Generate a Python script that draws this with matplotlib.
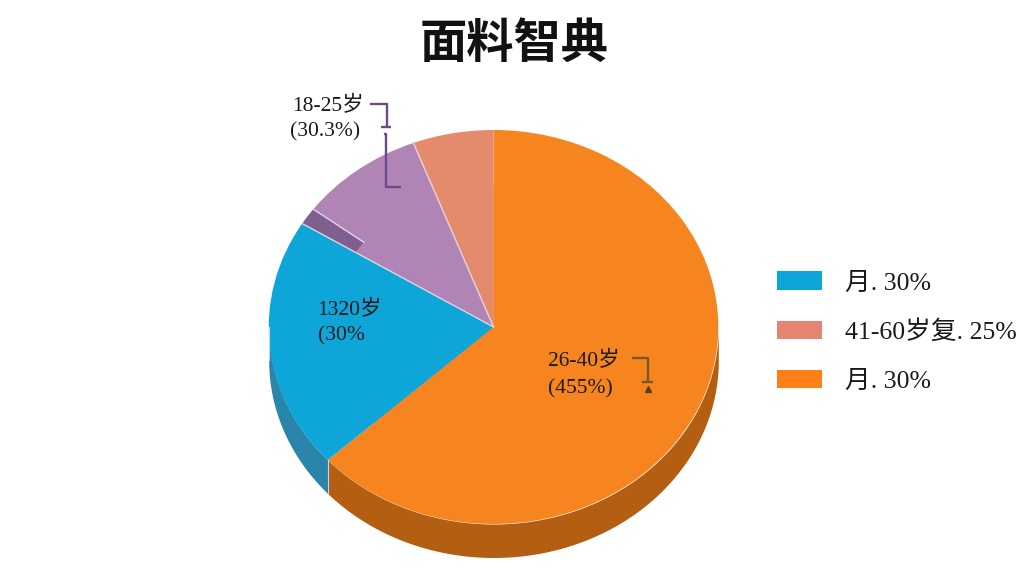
import numpy as np
import matplotlib
matplotlib.use("Agg")
import matplotlib.pyplot as plt
from matplotlib.lines import Line2D
from matplotlib.patches import Patch

plt.rcParams['font.family'] = ['Liberation Serif', 'Noto Sans CJK SC', 'DejaVu Sans']

title = "面料智典"

# slices, clockwise from the top
slice_values = [63.2, 20.6, 1.4, 9.0, 5.8]
top_colors = ["#f6851f", "#0ea5d9", "#7f5f8f", "#b085b5", "#e58b6d"]
inner_colors = ["#f6851f", "#0ea5d9", "#b085b5", "#b085b5", "#e58b6d"]
side_colors = ["#b35e10", "#2a85ab", "#5f4670", "#80608a", "#a86850"]

legend_labels = ["月. 30%", "41-60岁复. 25%", "月. 30%"]
legend_colors = ["#0ea5d9", "#e58570", "#ff8016"]

W = 1024
H = 576
depth = 0.17


def px(x, y):
    return x / W, 1 - y / H


def bracket(xs, ys, color):
    fx = [x / W for x in xs]
    fy = [1 - y / H for y in ys]
    fig.add_artist(Line2D(fx, fy, color=color, lw=1.7, solid_capstyle="butt"))


fig = plt.figure(figsize=(10.24, 5.76), dpi=100, facecolor="white")

# axes sized so the pie becomes a flattened ellipse, 225 x 197 px
ax = fig.add_axes([(493.5 - 281) / W, (576 - 573.25) / H, 562 / W, 492.5 / H])

# side wall of the pie
start = 90.0
for val, col in zip(slice_values, side_colors):
    end = start - val * 3.6
    a1, a2 = end % 360, (end % 360) + val * 3.6
    lo, hi = max(a1, 180), min(a2, 360)
    if hi > lo:
        t = np.radians(np.linspace(lo, hi, 120))
        ax.fill_between(np.cos(t), np.sin(t), np.sin(t) - depth, color=col, lw=0)
        ax.plot([np.cos(t[0])] * 2, [np.sin(t[0]), np.sin(t[0]) - depth],
                color="#c9d6df", lw=0.8)
    start = end

ax.pie(slice_values, colors=top_colors, startangle=90, counterclock=False,
       radius=1.0, wedgeprops=dict(linewidth=0))
# the dark slice only shows near the rim, purple covers its inner part
ax.pie(slice_values, colors=inner_colors, startangle=90, counterclock=False,
       radius=0.72, wedgeprops=dict(linewidth=0))

# pale seams between the small slices
bounds = np.radians(90 - np.cumsum(slice_values) * 3.6)
seam_starts = [0, 0.72, 0]
for b, r0 in zip(bounds[1:4], seam_starts):
    ax.plot([r0 * np.cos(b), np.cos(b)], [r0 * np.sin(b), np.sin(b)],
            color="#e3d3e0", lw=1.0)

ax.set_aspect("auto")
ax.set_xlim(-1.25, 1.25)
ax.set_ylim(-1.25, 1.25)

# title
tx, ty = px(514, 44)
fig.text(tx, ty, title, ha="center", va="center", fontsize=34, fontweight="bold",
         family=['Noto Sans CJK SC', 'DejaVu Sans'], color="#111111")

# slice labels
labels = [
    (292, 106, "18-25岁"),
    (290, 132, "(30.3%)"),
    (317, 310, "1320岁"),
    (318, 336, "(30%"),
    (548, 361, "26-40岁"),
    (548, 389, "(455%)"),
]
for x, y, s in labels:
    lx, ly = px(x, y)
    fig.text(lx, ly, s, ha="left", va="center", fontsize=15.5, color="#1a1a1a")

# leader brackets
purple = "#6b4a8a"
brown = "#7a5526"
bracket([370, 387, 387], [104, 104, 127], purple)
bracket([381, 391], [127, 127], purple)
bracket([384, 386, 386, 401], [134, 134, 187, 187], purple)
bracket([632, 648, 648], [358, 358, 382], brown)
bracket([642, 653], [382, 382], brown)
mx, my = px(648, 389)
fig.add_artist(Line2D([mx], [my], marker="^", markersize=4, color="#5a4020", lw=0))

# legend
handles = [Patch(facecolor=c, edgecolor="none") for c in legend_colors]
lx, ly = px(777, 332)
fig.legend(handles, legend_labels, loc="center left", bbox_to_anchor=(lx, ly),
           frameon=False, fontsize=18.5, handlelength=1.75, handleheight=0.74,
           handletextpad=0.9, labelspacing=1.0, borderpad=0, borderaxespad=0,
           labelcolor="#1a1a1a")

fig.savefig("out.png", dpi=100, facecolor="white")
